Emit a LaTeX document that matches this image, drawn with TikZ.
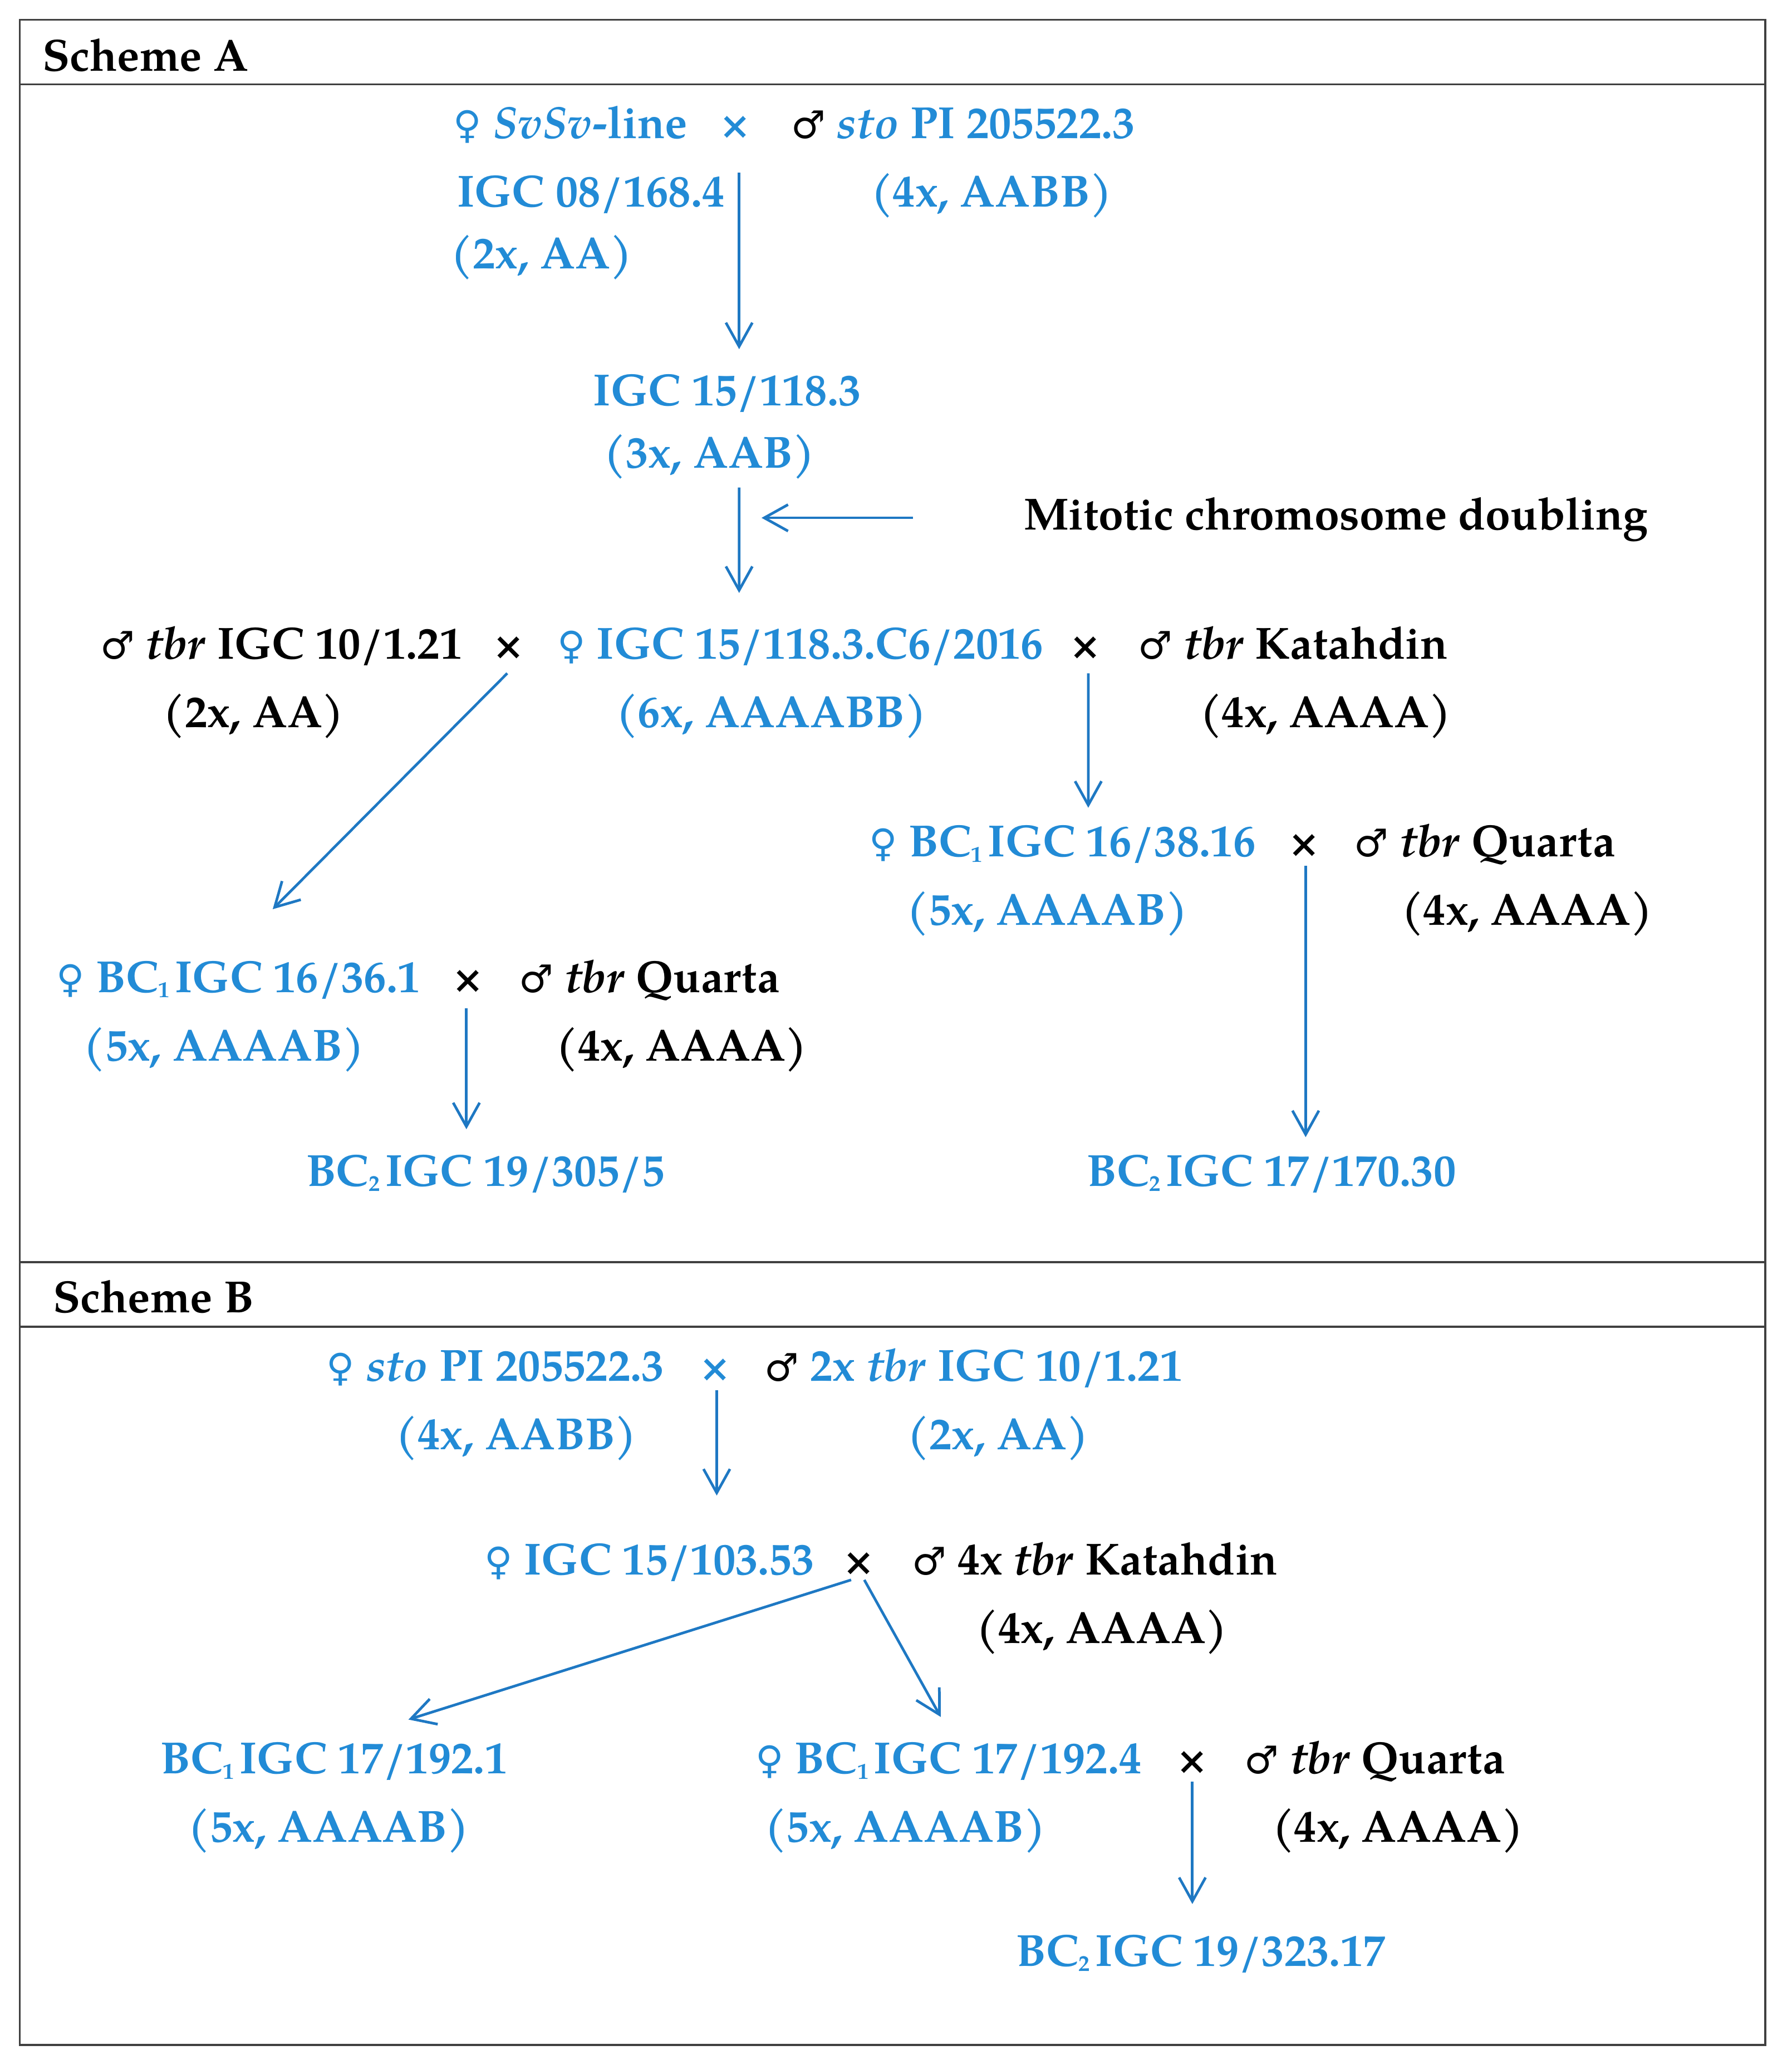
\documentclass[tikz,border=0pt]{standalone}
\usepackage{fontspec}
\setmainfont{texgyrepagella}[Extension=.otf, UprightFont=*-regular, BoldFont=*-bold, ItalicFont=*-italic, BoldItalicFont=*-bolditalic]
\newfontfamily\symf{DejaVu Sans}
\usetikzlibrary{arrows.meta,calc}
\definecolor{tblue}{RGB}{34,139,214}
\definecolor{ablue}{RGB}{30,120,195}
\definecolor{frm}{RGB}{64,64,64}
\newcommand\fs{\fontsize{34}{40}\selectfont\bfseries}
\newcommand\fem{{\symf\fontsize{29}{30}\selectfont ♀}}
\newcommand\mal{{\color{black}\symf\fontsize{29}{30}\selectfont ♂}}
\newcommand\bcs[1]{BC\raisebox{-0.12em}{\fontsize{17}{17}\selectfont #1}\hspace{0.12em}}
\begin{document}
\begin{tikzpicture}[x=0.9965pt,y=-0.9965pt,
 lbl/.style={inner sep=0pt, anchor=base, text height=24pt, text depth=8pt, font=\fs},
 bt/.style={lbl,text=tblue},
 kt/.style={lbl,text=black},
 frame/.style={draw=frm, line width=1.6pt},
 arr/.style={draw=ablue, line width=2pt, -{Straight Barb[length=18pt,width=20pt]}}]
\useasboundingbox (0pt,0pt) rectangle (1355pt,-1561.7pt);
% frames
\draw[frame] (15,15) rectangle (1340,1552);
\draw[frame] (15,64) -- (1340,64);
\draw[frame] (15,958) -- (1340,958);
\draw[frame] (15,1007) -- (1340,1007);
\node[kt, anchor=base west] (hA) at (32,54) {Scheme A};
\node[kt, anchor=base west] (hB) at (40,996) {Scheme B};
% ---------- Scheme A ----------
\node[bt] (nA1) at (433,105) {\fem{} \textit{SvSv}-line};
\node[bt] (xA1) at (558,105) {×};
\node[bt] (nA2) at (731,105) {\mal{} \textit{sto} PI 205522.3};
\node[bt] (nA3) at (448.5,157) {IGC 08/168.4};
\node[bt] (nA4) at (752.5,157) {(4x, AABB)};
\node[bt] (nA5) at (411,204) {(2x, AA)};
\node[bt] (nA6) at (552,308) {IGC 15/118.3};
\node[bt] (nA7) at (538.5,355) {(3x, AAB)};
\node[kt] (nA8) at (1014,402) {Mitotic chromosome doubling};
\coordinate (dbl) at (578,393);
\node[kt] (nA9) at (213.5,500) {\mal{} \textit{tbr} IGC 10/1.21};
\node[kt] (xA2) at (386,500) {×};
\node[bt] (nA10) at (607.5,500) {\fem{} IGC 15/118.3.C6/2016};
\node[kt] (xA3) at (824,500) {×};
\node[kt] (nA11) at (981.5,500) {\mal{} \textit{tbr} Katahdin};
\node[kt] (nA12) at (192.5,552) {(2x, AA)};
\node[bt] (nA13) at (585.5,552) {(6x, AAAABB)};
\node[kt] (nA14) at (1006,552) {(4x, AAAA)};
\node[bt] (nA15) at (806.5,650) {\fem{} \bcs{1}IGC 16/38.16};
\node[kt] (xA4) at (990,650) {×};
\node[kt] (nA16) at (1127,650) {\mal{} \textit{tbr} Quarta};
\node[bt] (nA17) at (795,702) {(5x, AAAAB)};
\node[kt] (nA18) at (1159,702) {(4x, AAAA)};
\node[bt] (nA19) at (965,900) {\bcs{2}IGC 17/170.30};
\node[bt] (nA20) at (181,753) {\fem{} \bcs{1}IGC 16/36.1};
\node[kt] (xA5) at (355,753) {×};
\node[kt] (nA21) at (493,753) {\mal{} \textit{tbr} Quarta};
\node[bt] (nA22) at (170,805) {(5x, AAAAB)};
\node[kt] (nA23) at (517.5,805) {(4x, AAAA)};
\node[bt] (nA24) at (368.5,900) {\bcs{2}IGC 19/305/5};
% arrows A
\draw[arr] ($(xA1.base)+(3,26)$) -- ($(nA6.base)+(9,-43)$);
\draw[arr] ($(nA7.base)+(22.5,15)$) -- ($(nA10.base)+(-46.5,-50)$);
\draw[arr] ($(nA8.base)+(-321,-9)$) -- (dbl);
\draw[arr] ($(xA2.base)+(-1,11)$) -- ($(nA20.base)+(26,-63)$);
\draw[arr] ($(xA3.base)+(2,11)$) -- ($(nA15.base)+(19.5,-37)$);
\draw[arr] ($(xA4.base)+(1,7)$) -- ($(nA19.base)+(26,-37)$);
\draw[arr] ($(xA5.base)+(-1,12)$) -- ($(nA24.base)+(-14.5,-43)$);
% ---------- Scheme B ----------
\node[bt] (nB1) at (376,1048) {\fem{} \textit{sto} PI 205522.3};
\node[bt] (xB1) at (543,1048) {×};
\node[bt] (nB2) at (739,1048) {\mal{} 2x \textit{tbr} IGC 10/1.21};
\node[bt] (nB3) at (392,1100) {(4x, AABB)};
\node[bt] (nB4) at (757.5,1100) {(2x, AA)};
\node[bt] (nB5) at (493,1195) {\fem{} IGC 15/103.53};
\node[kt] (xB2) at (652,1195) {×};
\node[kt] (nB6) at (831,1195) {\mal{} 4x \textit{tbr} Katahdin};
\node[kt] (nB7) at (836.5,1247) {(4x, AAAA)};
\node[bt] (nB8) at (253.5,1346) {\bcs{1}IGC 17/192.1};
\node[bt] (nB9) at (720,1346) {\fem{} \bcs{1}IGC 17/192.4};
\node[kt] (xB3) at (905,1346) {×};
\node[kt] (nB10) at (1043.5,1346) {\mal{} \textit{tbr} Quarta};
\node[bt] (nB11) at (249.5,1398) {(5x, AAAAB)};
\node[bt] (nB12) at (687,1398) {(5x, AAAAB)};
\node[kt] (nB13) at (1061,1398) {(4x, AAAA)};
\node[bt] (nB14) at (911.5,1492) {\bcs{2}IGC 19/323.17};
% arrows B
\draw[arr] ($(xB1.base)+(1,7)$) -- ($(nB5.base)+(51,-60)$);
\draw[arr] ($(xB2.base)+(-6,4)$) -- ($(nB8.base)+(56.5,-41)$);
\draw[arr] ($(xB2.base)+(4,4)$) -- ($(nB9.base)+(-6,-43)$);
\draw[arr] ($(xB3.base)+(0,6)$) -- ($(nB14.base)+(-6.5,-47)$);
\end{tikzpicture}
\end{document}
